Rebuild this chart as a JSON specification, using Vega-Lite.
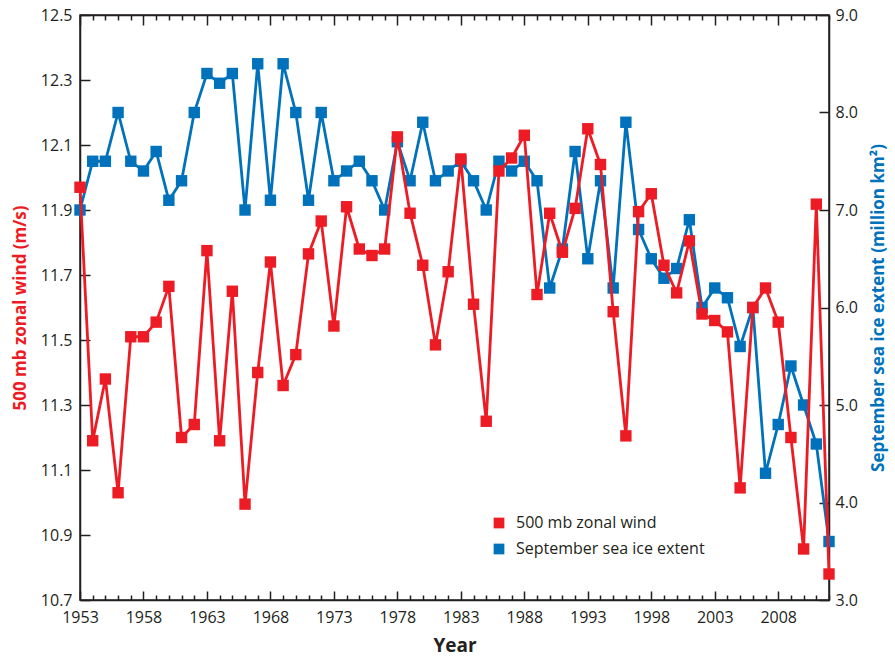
{
  "$schema": "https://vega.github.io/schema/vega-lite/v6.json",
  "width": 749,
  "height": 585,
  "autosize": "none",
  "padding": {"left": 80, "top": 15, "right": 66, "bottom": 58},
  "background": "white",
  "config": {
    "view": {"stroke": "#231F20", "strokeWidth": 1.5},
    "font": "Open Sans",
    "axis": {
      "domainColor": "#231F20",
      "domainWidth": 1.5,
      "tickColor": "#231F20",
      "tickWidth": 1.5,
      "grid": false,
      "labelFont": "Open Sans",
      "labelFontSize": 16,
      "labelColor": "#231F20",
      "titleFont": "Open Sans",
      "titleFontWeight": "bold"
    },
    "legend": {
      "orient": "none",
      "legendX": 411,
      "legendY": 500,
      "title": null,
      "symbolType": "square",
      "symbolSize": 115,
      "symbolStrokeWidth": 0,
      "labelFont": "Open Sans",
      "labelFontSize": 16,
      "labelColor": "#231F20",
      "labelLimit": 400,
      "labelOffset": 9,
      "rowPadding": 10,
      "padding": 0
    }
  },
  "data": {
    "values": [
      {"year": 1953, "wind": 11.97, "ice": 7.0},
      {"year": 1954, "wind": 11.19, "ice": 7.5},
      {"year": 1955, "wind": 11.38, "ice": 7.5},
      {"year": 1956, "wind": 11.03, "ice": 8.0},
      {"year": 1957, "wind": 11.51, "ice": 7.5},
      {"year": 1958, "wind": 11.51, "ice": 7.4},
      {"year": 1959, "wind": 11.555, "ice": 7.6},
      {"year": 1960, "wind": 11.665, "ice": 7.1},
      {"year": 1961, "wind": 11.2, "ice": 7.3},
      {"year": 1962, "wind": 11.24, "ice": 8.0},
      {"year": 1963, "wind": 11.775, "ice": 8.4},
      {"year": 1964, "wind": 11.19, "ice": 8.3},
      {"year": 1965, "wind": 11.65, "ice": 8.4},
      {"year": 1966, "wind": 10.995, "ice": 7.0},
      {"year": 1967, "wind": 11.4, "ice": 8.5},
      {"year": 1968, "wind": 11.74, "ice": 7.1},
      {"year": 1969, "wind": 11.36, "ice": 8.5},
      {"year": 1970, "wind": 11.455, "ice": 8.0},
      {"year": 1971, "wind": 11.765, "ice": 7.1},
      {"year": 1972, "wind": 11.866, "ice": 8.0},
      {"year": 1973, "wind": 11.543, "ice": 7.3},
      {"year": 1974, "wind": 11.91, "ice": 7.4},
      {"year": 1975, "wind": 11.78, "ice": 7.5},
      {"year": 1976, "wind": 11.76, "ice": 7.3},
      {"year": 1977, "wind": 11.78, "ice": 7.0},
      {"year": 1978, "wind": 12.125, "ice": 7.7},
      {"year": 1979, "wind": 11.89, "ice": 7.3},
      {"year": 1980, "wind": 11.73, "ice": 7.9},
      {"year": 1981, "wind": 11.485, "ice": 7.3},
      {"year": 1982, "wind": 11.71, "ice": 7.4},
      {"year": 1983, "wind": 12.057, "ice": 7.5},
      {"year": 1984, "wind": 11.61, "ice": 7.3},
      {"year": 1985, "wind": 11.25, "ice": 7.0},
      {"year": 1986, "wind": 12.02, "ice": 7.5},
      {"year": 1987, "wind": 12.06, "ice": 7.4},
      {"year": 1988, "wind": 12.13, "ice": 7.5},
      {"year": 1989, "wind": 11.64, "ice": 7.3},
      {"year": 1990, "wind": 11.89, "ice": 6.2},
      {"year": 1991, "wind": 11.77, "ice": 6.6},
      {"year": 1992, "wind": 11.905, "ice": 7.6},
      {"year": 1993, "wind": 12.15, "ice": 6.5},
      {"year": 1994, "wind": 12.04, "ice": 7.3},
      {"year": 1995, "wind": 11.587, "ice": 6.2},
      {"year": 1996, "wind": 11.205, "ice": 7.9},
      {"year": 1997, "wind": 11.895, "ice": 6.8},
      {"year": 1998, "wind": 11.95, "ice": 6.5},
      {"year": 1999, "wind": 11.73, "ice": 6.3},
      {"year": 2000, "wind": 11.645, "ice": 6.4},
      {"year": 2001, "wind": 11.805, "ice": 6.9},
      {"year": 2002, "wind": 11.58, "ice": 6.0},
      {"year": 2003, "wind": 11.56, "ice": 6.2},
      {"year": 2004, "wind": 11.525, "ice": 6.1},
      {"year": 2005, "wind": 11.045, "ice": 5.6},
      {"year": 2006, "wind": 11.6, "ice": 6.0},
      {"year": 2007, "wind": 11.66, "ice": 4.3},
      {"year": 2008, "wind": 11.555, "ice": 4.8},
      {"year": 2009, "wind": 11.2, "ice": 5.4},
      {"year": 2010, "wind": 10.857, "ice": 5.0},
      {"year": 2011, "wind": 11.918, "ice": 4.6},
      {"year": 2012, "wind": 10.78, "ice": 3.6}
    ]
  },
  "layer": [
    {
      "encoding": {
        "x": {
          "field": "year",
          "type": "quantitative",
          "scale": {"domain": [1953, 2012], "nice": false, "zero": false},
          "axis": {
            "orient": "bottom",
            "title": "Year",
            "titleFontSize": 19,
            "titleColor": "#231F20",
            "titleX": 374.5,
            "titleY": 45,
            "titleBaseline": "middle",
            "format": "d",
            "values": [1953,1954,1955,1956,1957,1958,1959,1960,1961,1962,1963,1964,1965,1966,1967,1968,1969,1970,1971,1972,1973,1974,1975,1976,1977,1978,1979,1980,1981,1982,1983,1984,1985,1986,1987,1988,1989,1990,1991,1992,1993,1994,1995,1996,1997,1998,1999,2000,2001,2002,2003,2004,2005,2006,2007,2008,2009,2010,2011,2012],
            "labelExpr": "(datum.value - 1953) % 5 == 0 ? datum.label : ''",
            "tickSize": {"condition": {"test": "(datum.value - 1953) % 5 == 0", "value": -9}, "value": -5},
            "labelPadding": 18,
            "labelFlush": false,
            "labelOverlap": false
          }
        },
        "y": {
          "field": "ice",
          "type": "quantitative",
          "scale": {"domain": [3, 9], "nice": false, "zero": false},
          "axis": {
            "orient": "right",
            "title": "September sea ice extent (million km²)",
            "titleColor": "#0072BC",
            "titleFontSize": 17,
            "titleAngle": 270,
            "titleX": 49,
            "titleY": 292.5,
            "titleAlign": "center",
            "titleBaseline": "middle",
            "values": [3, 4, 5, 6, 7, 8, 9],
            "format": ".1f",
            "tickSize": -10,
            "labelPadding": 16
          }
        }
      },
      "layer": [
        {"mark": {"type": "line", "color": "#0072BC", "strokeWidth": 2.8}},
        {
          "mark": {"type": "point", "shape": "square", "filled": true, "size": 130, "opacity": 1},
          "encoding": {
            "color": {
              "datum": "September sea ice extent",
              "scale": {"domain": ["500 mb zonal wind", "September sea ice extent"], "range": ["#ED1C24", "#0072BC"]}
            }
          }
        }
      ]
    },
    {
      "encoding": {
        "x": {
          "field": "year",
          "type": "quantitative",
          "scale": {"domain": [1953, 2012], "nice": false, "zero": false},
          "axis": {
            "orient": "top",
            "title": null,
            "labels": false,
            "values": [1953,1954,1955,1956,1957,1958,1959,1960,1961,1962,1963,1964,1965,1966,1967,1968,1969,1970,1971,1972,1973,1974,1975,1976,1977,1978,1979,1980,1981,1982,1983,1984,1985,1986,1987,1988,1989,1990,1991,1992,1993,1994,1995,1996,1997,1998,1999,2000,2001,2002,2003,2004,2005,2006,2007,2008,2009,2010,2011,2012],
            "tickSize": {"condition": {"test": "(datum.value - 1953) % 5 == 0", "value": -10}, "value": -5}
          }
        },
        "y": {
          "field": "wind",
          "type": "quantitative",
          "scale": {"domain": [10.7, 12.5], "nice": false, "zero": false},
          "axis": {
            "orient": "left",
            "title": "500 mb zonal wind (m/s)",
            "titleColor": "#ED1C24",
            "titleFontSize": 17,
            "titleAngle": 270,
            "titleX": -60,
            "titleY": 292.5,
            "titleAlign": "center",
            "titleBaseline": "middle",
            "values": [10.7, 10.9, 11.1, 11.3, 11.5, 11.7, 11.9, 12.1, 12.3, 12.5],
            "format": ".1f",
            "tickSize": -10,
            "labelPadding": 18
          }
        }
      },
      "layer": [
        {"mark": {"type": "line", "color": "#ED1C24", "strokeWidth": 2.8}},
        {
          "mark": {"type": "point", "shape": "square", "filled": true, "size": 130, "opacity": 1},
          "encoding": {
            "color": {
              "datum": "500 mb zonal wind",
              "scale": {"domain": ["500 mb zonal wind", "September sea ice extent"], "range": ["#ED1C24", "#0072BC"]}
            }
          }
        }
      ]
    }
  ],
  "resolve": {"scale": {"y": "independent"}, "axis": {"x": "independent"}}
}
